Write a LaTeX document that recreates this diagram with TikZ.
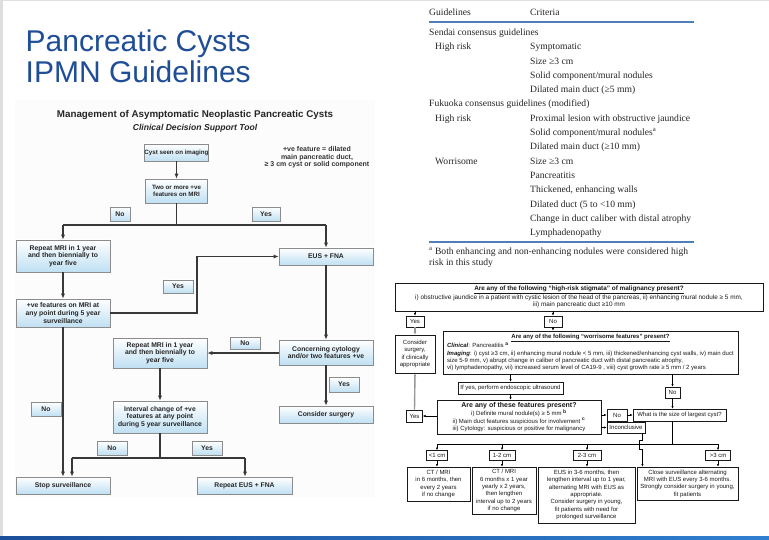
\documentclass[tikz,border=0pt]{standalone}
\usepackage{fontspec}
\setmainfont{Liberation Sans}
\newfontfamily\tabserif{Liberation Serif}
\usetikzlibrary{arrows.meta}
\definecolor{ttl}{HTML}{1F4E96}
\definecolor{lblue}{HTML}{BFE0F3}
\definecolor{rule}{HTML}{4F7FB8}
\definecolor{barA}{HTML}{1B4F9A}
\definecolor{barB}{HTML}{2F7FD0}
\newcommand\myfs[2]{\fontsize{#1}{#2}\selectfont}
\begin{document}
\begin{tikzpicture}[x=1pt,y=-1pt,
 lbox/.style={draw=black!45, line width=0.6pt, top color=white, bottom color=lblue, align=center, font=\myfs{6.8}{7.6}\bfseries, inner sep=0pt, text=black!85},
 lline/.style={draw=black!78, line width=1.3pt},
 larr/.style={lline, -{Latex[length=5pt,width=4pt]}},
 rbox/.style={draw=black!90, line width=0.8pt, fill=white, align=center, font=\myfs{6}{7.3}, inner sep=0pt, text=black!90},
 rline/.style={draw=black, line width=0.5pt},
 rarr/.style={rline, -{Latex[length=2.6pt,width=2.4pt]}},
 garr/.style={draw=black!40, line width=1.4pt, -{Latex[length=3pt,width=3pt]}},
 tab/.style={font=\tabserif\myfs{9.6}{11}, anchor=base west, inner sep=0pt, text=black!85},
]
\useasboundingbox (0,0) rectangle (769,540);
\fill[white] (0,0) rectangle (769,540);
\fill[black!12] (0,0) rectangle (769,1.2);
\fill[black!13] (0,0) rectangle (2.5,537);
\shade[left color=barA, right color=barB] (0,536.5) rectangle (769,540);

% slide title
\node[font=\myfs{30}{33}, text=ttl, anchor=base west, inner sep=0pt] (t1) at (25.5,51.7) {Pancreatic Cysts};
\node[font=\myfs{30}{33}, text=ttl, anchor=base west, inner sep=0pt] (t2) at (25.5,82.7) {IPMN Guidelines};

% ---------- left flowchart ----------
\fill[black!1.2] (15,100) rectangle (375,497);
\node[font=\myfs{9.8}{11}\bfseries, text=black!85] (ltitle) at (195,115) {Management of Asymptomatic Neoplastic Pancreatic Cysts};
\node[font=\myfs{8.6}{10}\bfseries\itshape, text=black!85] (lsub) at (195,128) {Clinical Decision Support Tool};
\node[font=\myfs{7}{7.4}\bfseries, align=center, text=black!80] (note) at (317,157.5) {+ve feature = dilated\\main pancreatic duct,\\≥ 3 cm cyst or solid component};

\node[lbox, font=\myfs{6.2}{7}\bfseries, minimum width=62pt, minimum height=17pt] (cyst) at (176.5,152.5) {Cyst seen on imaging};
\node[lbox, font=\myfs{6.2}{7.4}\bfseries, minimum width=62pt, minimum height=24pt] (two) at (176.5,191) {Two or more +ve\\features on MRI};
\node[lbox, minimum width=20pt, minimum height=14pt] (no1) at (120,214) {No};
\node[lbox, minimum width=28pt, minimum height=14pt] (yes1) at (266,214) {Yes};
\node[lbox, minimum width=94pt, minimum height=32pt] (rep1) at (63,256) {Repeat MRI in 1 year\\and then biennially to\\year five};
\node[lbox, minimum width=94pt, minimum height=17pt] (eus) at (326,256.5) {EUS + FNA};
\node[lbox, minimum width=94pt, minimum height=28pt] (pos) at (63,313) {+ve features on MRI at\\any point during 5 year\\surveillance};
\node[lbox, minimum width=30pt, minimum height=13pt] (yes2) at (178,286.5) {Yes};
\node[lbox, minimum width=94pt, minimum height=25pt] (conc) at (326,352.5) {Concerning cytology\\and/or two features +ve};
\node[lbox, minimum width=30pt, minimum height=12pt] (no2) at (245,343) {No};
\node[lbox, minimum width=94pt, minimum height=30pt] (rep2) at (160,353) {Repeat MRI in 1 year\\and then biennially to\\year five};
\node[lbox, minimum width=30pt, minimum height=15pt] (yes3) at (344,384.5) {Yes};
\node[lbox, minimum width=94pt, minimum height=32pt] (intv) at (160,417) {Interval change of +ve\\features at any point\\during 5 year surveillance};
\node[lbox, minimum width=94pt, minimum height=17pt] (surg) at (326,414.5) {Consider surgery};
\node[lbox, minimum width=30pt, minimum height=14pt] (no3) at (46,409) {No};
\node[lbox, minimum width=30pt, minimum height=14pt] (no4) at (112,448) {No};
\node[lbox, minimum width=30pt, minimum height=14pt] (yes4) at (207,448) {Yes};
\node[lbox, minimum width=94pt, minimum height=17pt] (stop) at (63,485.5) {Stop surveillance};
\node[lbox, minimum width=95pt, minimum height=17pt] (repeus) at (244.5,485.5) {Repeat EUS + FNA};

\coordinate (hl) at (63,225);
\coordinate (hrr) at (326,225);
\coordinate (jp) at (197,313);
\coordinate (il) at (72,458);
\coordinate (ir) at (245,458);
\draw[larr] (cyst.south) -- (two.north);
\draw[lline] (two.south) -- (two.south |- hl);
\draw[lline] (hl) -- (hrr);
\draw[larr] (hl) -- (rep1.north);
\draw[larr] (hrr) -- (eus.north);
\draw[larr] (rep1.south) -- (pos.north);
\draw[larr] (pos.east) -- (jp) |- (eus.west);
\draw[larr] (eus.south) -- (conc.north);
\draw[larr] (conc.west |- rep2.east) -- (rep2.east);
\draw[larr] (rep2.south) -- (intv.north);
\draw[larr] (conc.south) -- (surg.north);
\draw[larr] (pos.south) -- (stop.north);
\draw[lline] (intv.south) -- (intv.south |- il);
\draw[lline] (il) -- (ir);
\draw[larr] (il) -- (il |- stop.north);
\draw[larr] (ir) -- (ir |- repeus.north);

% ---------- table ----------
\node[tab] (hg) at (429,15.5) {Guidelines};
\node[tab] (hc) at (530,15.5) {Criteria};
\draw[rule, line width=1.2pt] (429,22) -- (694,22);
\node[tab] (r1) at (429,35.5) {Sendai consensus guidelines};
\node[tab] (r2a) at (435,49.8) {High risk};
\node[tab] (r2) at (530,49.8) {Symptomatic};
\node[tab] (r3) at (530,64.1) {Size ≥3 cm};
\node[tab] (r4) at (530,78.4) {Solid component/mural nodules};
\node[tab] (r5) at (530,92.7) {Dilated main duct (≥5 mm)};
\node[tab] (r6) at (429,107) {Fukuoka consensus guidelines (modified)};
\node[tab] (r7a) at (435,121.3) {High risk};
\node[tab] (r7) at (530,121.3) {Proximal lesion with obstructive jaundice};
\node[tab] (r8) at (530,135.6) {Solid component/mural nodules\textsuperscript{a}};
\node[tab] (r9) at (530,149.9) {Dilated main duct (≥10 mm)};
\node[tab] (r10a) at (435,164.2) {Worrisome};
\node[tab] (r10) at (530,164.2) {Size ≥3 cm};
\node[tab] (r11) at (530,178.5) {Pancreatitis};
\node[tab] (r12) at (530,192.8) {Thickened, enhancing walls};
\node[tab] (r13) at (530,207.1) {Dilated duct (5 to <10 mm)};
\node[tab] (r14) at (530,221.4) {Change in duct caliber with distal atrophy};
\node[tab] (r15) at (530,235.7) {Lymphadenopathy};
\draw[rule, line width=1.2pt] (429,242) -- (694,242);
\node[tab] (f1) at (429,254.2) {\textsuperscript{a} Both enhancing and non-enhancing nodules were considered high};
\node[tab] (f2) at (429,265.2) {risk in this study};

% ---------- right flowchart ----------
\node[rbox, font=\myfs{6.4}{7.4}, minimum width=368pt, minimum height=28pt] (stig) at (579,297) {\textbf{\underline{Are any of the following “high-risk stigmata” of malignancy present?}}\\i) obstructive jaundice in a patient with cystic lesion of the head of the pancreas, ii) enhancing mural nodule ≥ 5 mm,\\iii) main pancreatic duct ≥10 mm};
\node[rbox, minimum width=18pt, minimum height=11pt] (yesA) at (415,321.5) {Yes};
\node[rbox, minimum width=18pt, minimum height=11pt] (noA) at (553,321.5) {No};
\node[rbox, minimum width=40pt, minimum height=38pt] (cons) at (415,354) {Consider\\surgery,\\if clinically\\appropriate};
\node[rbox, minimum width=295pt, minimum height=43pt, align=left] (wf) at (590.5,352.5) {\makebox[287pt]{\textbf{\underline{Are any of the following “worrisome features” present?}}}\\\textbf{\textit{Clinical}}: Pancreatitis \textsuperscript{\textbf{a}}\\\textbf{\textit{Imaging}}: i) cyst ≥3 cm, ii) enhancing mural nodule < 5 mm, iii) thickened/enhancing cyst walls, iv) main duct\\size 5-9 mm, v) abrupt change in caliber of pancreatic duct with distal pancreatic atrophy,\\vi) lymphadenopathy, vii) increased serum level of CA19-9 , viii) cyst growth rate ≥ 5 mm / 2 years};
\node[rbox, minimum width=105pt, minimum height=12pt] (ifyes) at (510.5,388) {If yes, perform endoscopic ultrasound};
\node[rbox, minimum width=15pt, minimum height=11pt] (noB) at (672.5,392.5) {No};
\node[rbox, minimum width=164pt, minimum height=34pt] (feat) at (519,417) {\myfs{7}{8}\textbf{Are any of these features present?}\\i) Definite mural nodule(s) ≥ 5 mm \textsuperscript{\textbf{b}}\\ii) Main duct features suspicious for involvement \textsuperscript{\textbf{c}}\\iii) Cytology: suspicious or positive for malignancy};
\node[rbox, minimum width=16pt, minimum height=12pt] (yesB) at (414.5,416) {Yes};
\node[rbox, minimum width=20pt, minimum height=12pt] (noC) at (617,415) {No};
\node[rbox, minimum width=93pt, minimum height=12pt] (what) at (679.5,415) {What is the size of largest cyst?};
\node[rbox, minimum width=38pt, minimum height=11pt] (inc) at (626,427.5) {Inconclusive};
\node[rbox, minimum width=21pt, minimum height=10pt] (s1) at (437,455.5) {<1 cm};
\node[rbox, minimum width=26pt, minimum height=10pt] (s2) at (502,455.5) {1-2 cm};
\node[rbox, minimum width=28pt, minimum height=10pt] (s3) at (587,455.5) {2-3 cm};
\node[rbox, minimum width=25pt, minimum height=10pt] (s4) at (718,455.5) {>3 cm};
\node[rbox, minimum width=63pt, minimum height=34pt] (b1) at (438.5,484) {CT / MRI\\in 6 months, then\\every 2 years\\if no change};
\node[rbox, minimum width=64pt, minimum height=47pt] (b2) at (504,490.5) {CT / MRI\\6 months x 1 year\\yearly x 2 years,\\then lengthen\\interval up to 2 years\\if no change};
\node[rbox, minimum width=97pt, minimum height=56pt] (b3) at (586.5,495) {EUS in 3-6 months, then\\lengthen interval up to 1 year,\\alternating MRI with EUS as\\appropriate.\\Consider surgery in young,\\fit patients with need for\\prolonged surveillance};
\node[rbox, minimum width=101pt, minimum height=33pt] (b4) at (687.5,483.5) {Close surveillance alternating\\MRI with EUS every 3-6 months.\\Strongly consider surgery in young,\\fit patients};

\draw[rarr] (yesA.north |- stig.south) -- (yesA.north);
\draw[rarr] (noA.north |- stig.south) -- (noA.north);
\draw[garr] (yesA.south) -- (cons.north);
\draw[rarr] (noA.south) -- (noA.south |- wf.north);
\draw[rarr] (ifyes.north |- wf.south) -- (ifyes.north);
\draw[rarr] (ifyes.south) -- (ifyes.south |- feat.north);
\draw[rarr] (noB.north |- wf.south) -- (noB.north);
\draw[rarr] (noB.south) -- (noB.south |- what.north);
\draw[rarr] (feat.west |- yesB.east) -- (yesB.east);
\draw[garr] (yesB.north) -- (cons.south);
\draw[rarr] (feat.east |- noC.west) -- (noC.west);
\draw[rarr] (noC.east) -- (what.west |- noC.east);
\draw[rarr] (feat.east |- inc.west) -- (inc.west);
\coordinate (bl) at (437,444);
\coordinate (bR) at (718,444);
\draw[rline] (what.south -| noB.south) -- (noB.south |- bl);
\draw[rline] (bl) -- (bR);
\draw[rarr] (bl) -- (s1.north);
\draw[rarr] (s2.north |- bl) -- (s2.north);
\draw[rarr] (s3.north |- bl) -- (s3.north);
\draw[rarr] (bR) -- (s4.north);
\draw[rarr] (s1.south) -- (s1.south |- b1.north);
\draw[rarr] (s2.south) -- (s2.south |- b2.north);
\draw[rarr] (s3.south) -- (s3.south |- b3.north);
\draw[rarr] (s4.south) -- (s4.south |- b4.north);
\coordinate (h0) at ([xshift=-3pt]inc.south east);
\draw[rarr] (h0) -- ++(0,7) -- ++(-3,0) -- ++(0,9) -- ++(3,0) -- (h0 |- b4.north);
\end{tikzpicture}
\end{document}
